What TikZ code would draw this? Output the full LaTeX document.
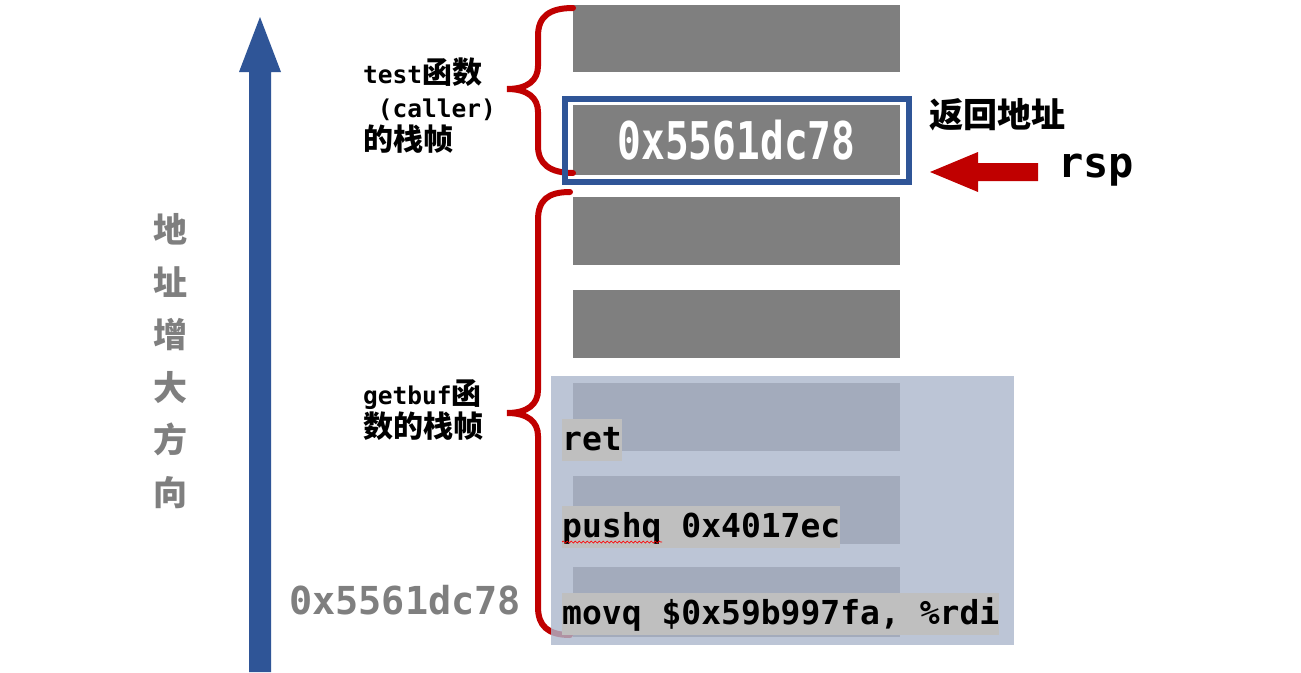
\documentclass[tikz,border=0pt]{standalone}
\usepackage{fontspec}
\usetikzlibrary{decorations.pathmorphing}
\newfontfamily\cjk{Noto Sans CJK SC}
\newfontfamily\mono{DejaVu Sans Mono}
\newfontfamily\condmono[FakeStretch=0.76]{DejaVu Sans Mono}
\newcommand{\mtxt}[1]{{\mono\bfseries\fontsize{24.5}{33.5}\selectfont #1}}
\definecolor{boxgray}{HTML}{7F7F7F}
\definecolor{arrblue}{HTML}{2F5597}
\definecolor{bracered}{HTML}{C00000}
\definecolor{codebg}{HTML}{BFBFBF}
\definecolor{overlay}{RGB}{172,183,204}
\definecolor{labgray}{HTML}{7F7F7F}
\tikzset{
  slot/.style={fill=boxgray, minimum width=327pt, minimum height=68pt, inner sep=0pt, draw=none},
  bracepath/.style={draw=bracered, line width=6pt, line cap=round},
  codebox/.style={fill=codebg, inner sep=0pt, text height=31pt, text depth=11pt, anchor=base west,
    font=\mono\bfseries\fontsize{33}{40}\selectfont},
  cjklabel/.style={inner sep=0pt, align=left, anchor=west, font=\cjk\bfseries\fontsize{30}{33.5}\selectfont}
}
\begin{document}
\begin{tikzpicture}[x=1pt,y=-1pt]
\useasboundingbox (0,0) rectangle (1301,672);
\fill[white] (0,0) rectangle (1301,672);

% big blue arrow
\fill[arrblue] (249,672) -- (249,72) -- (239,72) -- (260,17) -- (281,72) -- (271,72) -- (271,672) -- cycle;

% vertical label
\node[inner sep=0pt, align=center, text=labgray, font=\cjk\bfseries\fontsize{34}{52.6}\selectfont] (dir) at (170,361) {地\\址\\增\\大\\方\\向};

% stack slots
\node[slot, minimum height=67pt] (s1) at (736.5,38.5) {};
\node[slot, minimum height=70pt, text=white, font=\condmono\bfseries\fontsize{52}{60}\selectfont] (s2) at (736.5,140) {0x5561dc78};
\node[slot] (s3) at (736.5,231) {};
\node[slot] (s4) at (736.5,323.5) {};

% braces (drawn before the overlay)
\draw[bracepath] (573,8) .. controls (550,8) and (538,16) .. (538,36) -- (538,66)
  .. controls (538,80) and (528,89) .. (507,89)
  .. controls (528,89) and (538,98) .. (538,112) -- (538,146)
  .. controls (538,164) and (550,173) .. (573,173);
\draw[bracepath] (570,192) .. controls (548,192) and (538,200) .. (538,220) -- (538,390)
  .. controls (538,404) and (528,413) .. (507,413)
  .. controls (528,413) and (538,422) .. (538,436) -- (538,607)
  .. controls (538,626) and (548,635) .. (570,635);

% return-address frame
\node[draw=arrblue, line width=6pt, minimum width=344pt, minimum height=83pt, inner sep=0pt] (frame) at (737,140.5) {};

\node[slot] (s5) at (736.5,416.5) {};
\node[slot] (s6) at (736.5,509.5) {};
\node[slot, minimum height=70pt] (s7) at (736.5,602) {};

% injected code overlay
\node[fill=overlay, fill opacity=0.8, minimum width=463pt, minimum height=269pt, inner sep=0pt] (ov) at (782.5,510.5) {};

% code lines
\node[codebox] (ret) at (562,450) {ret};
\node[codebox] (push) at (562,537) {pushq 0x4017ec};
\node[codebox] (movq) at (562,624) {movq \$0x59b997fa, \%rdi};
\draw[red, line width=0.7pt, decorate, decoration={snake, segment length=4pt, amplitude=1pt}]
  ([yshift=-5pt]push.base west) -- ++(100,0);

% labels
\node[cjklabel] (caller) at (363,106) {\mtxt{test}函数\\\mtxt{\hspace*{0.6em}(caller)}\\的栈帧};
\node[cjklabel] (getbuf) at (363,410) {\mtxt{getbuf}函\\数的栈帧};
\node[inner sep=0pt, anchor=west, font=\cjk\bfseries\fontsize{34}{40}\selectfont] (ra) at (929,115) {返回地址};
\node[inner sep=0pt, anchor=west, font=\mono\bfseries\fontsize{42}{48}\selectfont] (rsp) at (1058,170) {rsp};
\node[inner sep=0pt, anchor=west, text=labgray, font=\mono\bfseries\fontsize{38.5}{44}\selectfont] (addr) at (289,600) {0x5561dc78};

% rsp arrow
\fill[bracered] (1038,163) -- (978,163) -- (978,152) -- (930,172) -- (978,192) -- (978,181) -- (1038,181) -- cycle;
\end{tikzpicture}
\end{document}
